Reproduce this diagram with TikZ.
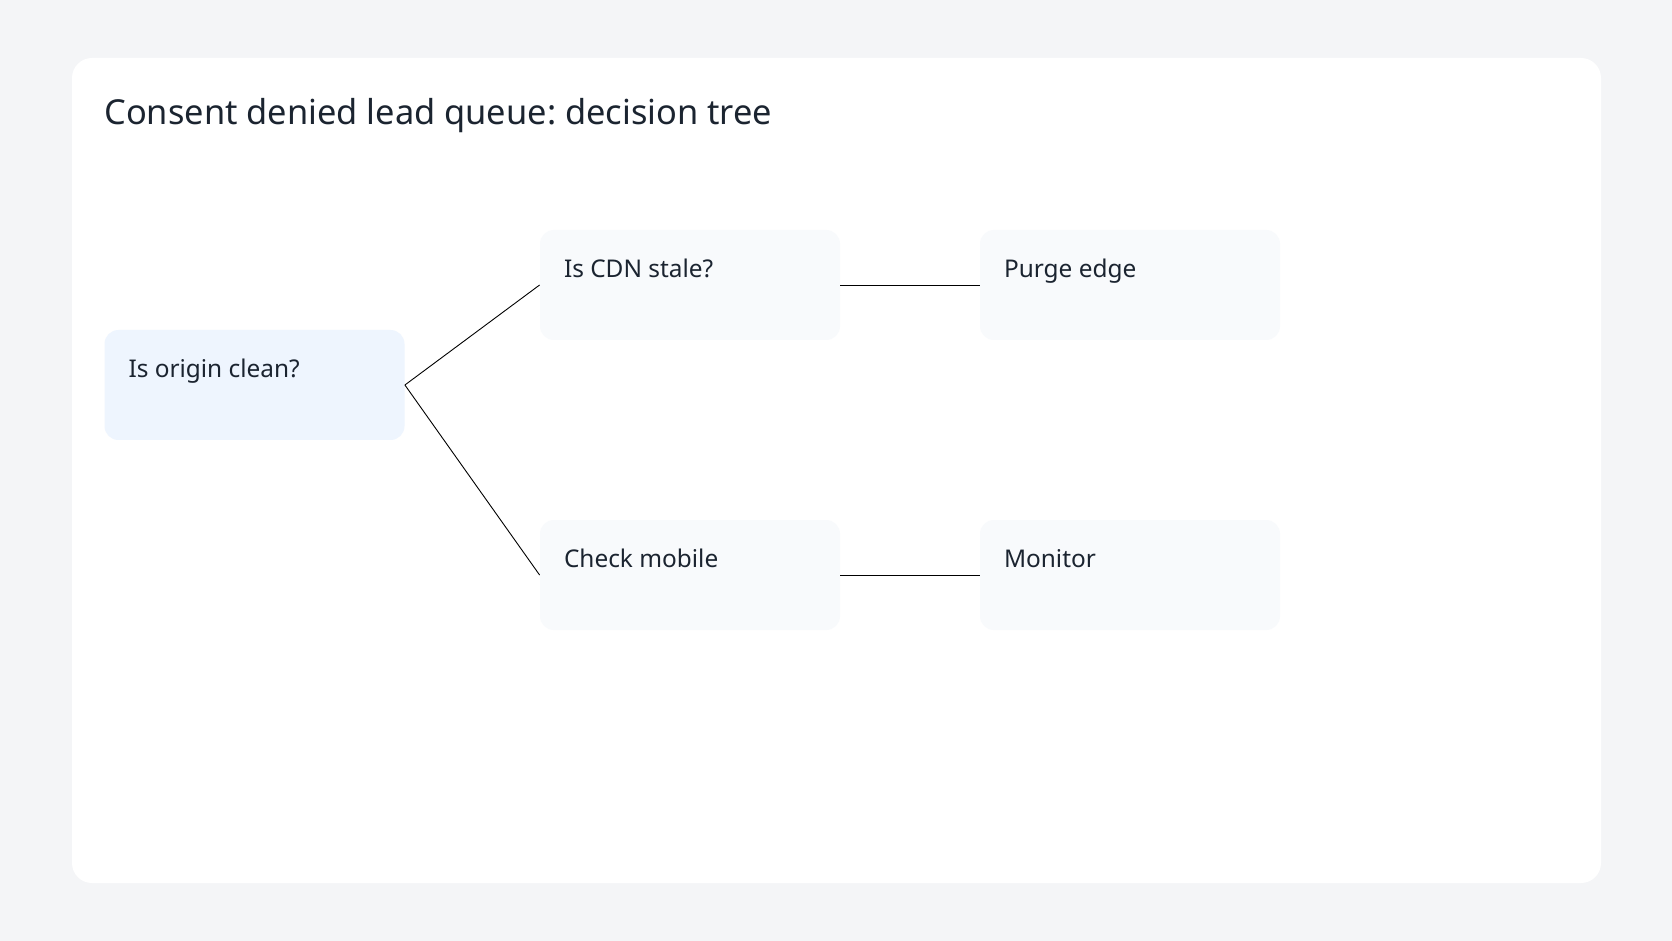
\documentclass[tikz,border=0pt]{standalone}
\usepackage{fontspec}
\setmainfont{Noto Sans}
\usepackage{tikz}
\usetikzlibrary{positioning,calc}
\frenchspacing

\definecolor{pagebg}{HTML}{F4F5F7}
\definecolor{inkdark}{HTML}{1B2430}
\definecolor{rootfill}{HTML}{EEF5FE}
\definecolor{leaffill}{HTML}{F8FAFC}

\tikzset{
  treebox/.style={rounded corners=7pt, minimum width=150pt, minimum height=55pt,
                  inner sep=0pt},
  boxtext/.style={anchor=base west, xshift=12pt, yshift=-24pt, inner sep=0pt,
                  text=inkdark, font=\fontsize{12.2}{14}\selectfont},
  link/.style={draw=black, line width=0.45pt}
}

\begin{document}
\begin{tikzpicture}[x=0.5pt,y=-0.5pt]
  % page and card
  \fill[pagebg] (0,0) rectangle (1672,941);
  \useasboundingbox (0,0) rectangle (1672,941);
  \fill[white, rounded corners=10pt] (72,58) rectangle (1601,883);

  \node[anchor=base west, inner sep=0pt, text=inkdark,
        font=\fontsize{17.2}{20}\selectfont] (title) at (104,125)
        {Consent denied lead queue: decision tree};

  \node[treebox, fill=rootfill, label={[boxtext]north west:Is origin clean?}] (origin) at (254.5,385) {};
  \node[treebox, fill=leaffill, label={[boxtext]north west:Is CDN stale?}] (cdn) at (690,285) {};
  \node[treebox, fill=leaffill, label={[boxtext]north west:Purge edge}] (purge) at (1130,285) {};
  \node[treebox, fill=leaffill, label={[boxtext]north west:Check mobile}] (mobile) at (690,575) {};
  \node[treebox, fill=leaffill, label={[boxtext]north west:Monitor}] (monitor) at (1130,575) {};

  \draw[link] (origin.east) -- (cdn.west);
  \draw[link] (origin.east) -- (mobile.west);
  \draw[link] (cdn.east) -- (purge.west);
  \draw[link] (mobile.east) -- (monitor.west);
\end{tikzpicture}
\end{document}
